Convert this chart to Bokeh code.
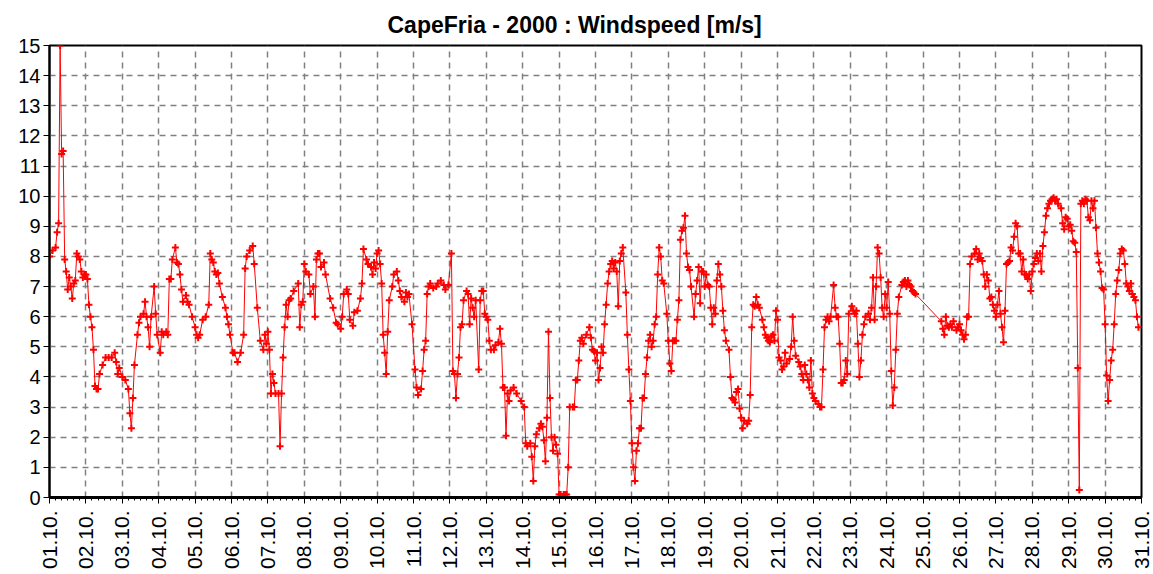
import math
from bokeh.plotting import figure
from bokeh.models import Range1d, FixedTicker, ColumnDataSource
from bokeh.embed import file_html
from bokeh.resources import INLINE

title_text = "CapeFria - 2000 : Windspeed [m/s]"

day_labels = ["01.10.", "02.10.", "03.10.", "04.10.", "05.10.", "06.10.", "07.10.", "08.10.",
              "09.10.", "10.10.", "11.10.", "12.10.", "13.10.", "14.10.", "15.10.", "16.10.",
              "17.10.", "18.10.", "19.10.", "20.10.", "21.10.", "22.10.", "23.10.", "24.10.",
              "25.10.", "26.10.", "27.10.", "28.10.", "29.10.", "30.10.", "31.10."]
y_ticks = [0, 1, 2, 3, 4, 5, 6, 7, 8, 9, 10, 11, 12, 13, 14, 15]

# hours since 01.10. 00:00 and wind speed [m/s]
hours_a = [0, 2, 4, 5, 6, 7, 8, 9, 10, 11, 12, 13, 14, 15, 16, 17, 18, 19, 20, 21, 22, 23, 24, 25, 26, 27,
           28, 29, 30, 31, 32, 33, 35, 37, 39, 41, 43, 44, 45, 46, 48, 50, 52, 53, 54, 55, 56, 58, 59, 60,
           62, 63, 64, 65, 66, 67, 69]
speed_a = [8.0, 8.2, 8.3, 8.8, 9.1, 15.0, 11.4, 11.5, 7.9, 7.5, 6.9, 7.3, 7.0, 6.6, 7.1, 7.2, 8.1, 8.0, 7.9,
           7.5, 7.3, 7.4, 7.4, 7.25, 6.4, 6.0, 5.65, 4.9, 3.7, 3.6, 3.6, 4.1, 4.4, 4.65, 4.65, 4.65, 4.8, 4.5,
           4.1, 4.3, 4.0, 3.9, 3.6, 2.8, 2.3, 3.3, 4.4, 5.4, 5.8, 6.0, 6.1, 6.5, 6.0, 5.65, 5.0, 6.0, 7.0]

hours_b = [70, 71, 73, 74, 75, 77, 78, 79, 80, 81, 83, 84, 85, 86, 87, 88, 90, 91, 92, 94, 96, 97, 98, 99,
           101, 103, 105, 106, 107, 108, 109, 110, 111, 112, 114, 116, 117, 118, 119, 121, 122, 124, 126,
           128, 129, 130, 132, 134, 135, 137, 139, 141]
speed_b = [6.1, 5.4, 4.8, 5.5, 5.4, 5.5, 5.4, 7.25, 7.25, 7.9, 8.3, 7.8, 7.75, 7.4, 6.9, 6.5, 6.7, 6.5, 6.4,
           6.0, 5.65, 5.4, 5.3, 5.4, 5.9, 6.0, 6.4, 8.1, 7.9, 7.8, 7.5, 7.4, 7.45, 7.1, 6.65, 6.3, 6.0, 5.75,
           5.4, 4.8, 4.8, 4.5, 4.8, 5.4, 7.6, 8.0, 8.2, 8.35, 7.75, 6.3, 5.2, 4.9]

hours_c = [142, 143, 144, 145, 146, 147, 148, 149, 151, 152, 153, 154, 155, 156, 157, 158, 159, 161, 164,
           165, 166, 167, 168, 169, 171, 172, 174, 175, 176, 177, 178, 179, 181, 182, 185, 187, 189, 190,
           192, 193, 194, 196, 197, 198, 200, 201, 203, 205, 206, 207, 209, 210, 212, 213, 214]
speed_c = [5.4, 5.1, 5.5, 4.9, 3.45, 4.1, 3.8, 3.45, 3.45, 1.7, 3.45, 4.65, 5.65, 6.4, 6.0, 6.55, 6.6, 6.85,
           7.1, 5.65, 6.4, 6.5, 7.75, 7.5, 7.4, 6.75, 7.0, 6.0, 7.9, 8.1, 8.1, 7.65, 7.8, 7.4, 6.6, 6.3, 5.8,
           5.75, 5.6, 6.0, 6.75, 6.9, 6.75, 5.9, 5.7, 6.15, 6.2, 6.6, 7.1, 8.25, 7.9, 7.75, 7.65, 7.4, 7.8]

hours_d = [215, 216, 217, 218, 219, 220, 221, 222, 223, 224, 226, 227, 229, 230, 231, 232, 234, 235, 236,
           237, 239, 241, 242, 243, 245, 246, 247, 248, 249, 250, 251, 253, 255, 256, 258, 260, 261, 263,
           265, 266, 267, 268, 269, 270, 271, 272, 273, 275, 276, 277, 278, 279, 280, 281, 283, 284, 285]
speed_d = [7.6, 8.1, 8.2, 7.75, 7.1, 5.4, 4.8, 4.1, 5.5, 6.55, 7.0, 7.4, 7.5, 7.2, 6.85, 6.65, 6.5, 6.8,
           6.65, 6.75, 5.75, 4.25, 3.65, 3.4, 3.6, 4.2, 4.9, 5.2, 6.75, 7.0, 7.1, 6.95, 7.0, 7.1, 7.2, 7.05,
           6.9, 7.05, 8.1, 4.2, 4.1, 3.3, 4.1, 4.65, 5.65, 5.75, 6.55, 6.85, 6.75, 5.75, 6.6, 6.3, 6.0, 6.55,
           4.25, 6.55, 6.85]

hours_e = [286, 287, 288, 289, 290, 291, 293, 294, 296, 297, 298, 299, 300, 301, 302, 303, 304, 306, 308,
           311, 313, 314, 315, 317, 318, 319, 320, 321, 323, 324, 325, 326, 327, 328, 329, 330, 331, 332,
           333, 334, 335, 336, 337, 339, 340, 341, 342, 343, 345, 346, 347, 348, 349, 350, 351, 352, 354,
           356, 357, 358]
speed_e = [6.85, 6.1, 6.0, 5.9, 5.2, 4.9, 4.9, 5.05, 5.15, 5.6, 5.1, 3.65, 3.65, 2.05, 3.45, 3.2, 3.55, 3.65,
           3.45, 3.2, 3.0, 1.8, 1.7, 1.8, 1.35, 0.55, 1.7, 2.1, 2.3, 2.45, 2.35, 1.9, 1.2, 2.65, 5.5, 3.3,
           2.0, 1.55, 2.0, 1.75, 1.45, 0.1, 0.1, 0.1, 0.1, 0.1, 1.0, 3.0, 3.0, 3.0, 3.9, 3.9, 4.55, 5.2, 5.3,
           5.1, 5.4, 5.65, 5.3, 4.9]

hours_f = [359, 360, 361, 362, 363, 364, 365, 366, 367, 368, 369, 370, 371, 372, 373, 374, 375, 376, 377,
           378, 380, 381, 382, 383, 384, 385, 386, 387, 388, 389, 390, 391, 392, 393, 394, 395, 396, 397,
           398, 399, 400, 401, 402, 403, 404, 405, 407, 408, 409, 410, 411, 412, 413, 414, 415, 416, 417,
           418, 419, 420, 421, 422, 423, 425, 426]
speed_f = [4.85, 4.55, 4.8, 3.9, 4.3, 5.0, 4.8, 5.75, 6.4, 7.1, 7.5, 7.75, 7.85, 7.6, 7.8, 7.5, 6.35, 7.85,
           8.1, 8.3, 6.8, 5.4, 4.25, 3.2, 1.8, 1.0, 0.55, 1.55, 1.8, 2.3, 2.3, 3.3, 3.3, 4.1, 4.65, 5.2, 5.4,
           5.0, 5.2, 5.75, 6.0, 7.4, 8.3, 8.0, 7.2, 7.1, 6.1, 5.2, 4.45, 4.2, 5.2, 5.2, 5.2, 5.9, 6.55, 8.55,
           8.85, 8.95, 9.35, 8.1, 7.65, 7.55, 7.0, 6.0, 6.75]

hours_g = [427, 428, 429, 430, 431, 432, 433, 434, 435, 436, 437, 438, 439, 440, 441, 442, 443, 444, 445,
           446, 448, 449, 450, 451, 452, 453, 454, 455, 456, 457, 458, 460, 461, 462, 463, 464, 465, 466,
           467, 468, 470, 471, 472, 473, 474, 475, 476, 477, 478, 479, 480, 481, 482, 483, 484, 485, 486,
           488, 489, 490, 491, 492, 494, 495, 496, 497]
speed_g = [7.2, 7.65, 6.45, 7.5, 7.5, 7.0, 7.4, 7.05, 7.0, 6.3, 5.75, 6.3, 6.1, 7.2, 7.75, 7.4, 7.0, 6.2,
           5.55, 5.2, 4.9, 4.0, 3.3, 3.25, 3.15, 3.5, 3.6, 2.95, 2.65, 2.3, 2.55, 2.45, 2.55, 3.4, 5.65, 6.4,
           6.35, 6.65, 6.4, 6.3, 5.9, 5.65, 5.4, 5.3, 5.2, 5.15, 5.35, 5.4, 5.2, 6.2, 5.9, 4.65, 4.55, 4.25,
           4.35, 4.8, 4.45, 4.6, 5.0, 6.0, 5.2, 4.7, 4.5, 4.35, 4.1, 3.9]

hours_h = [498, 499, 500, 501, 502, 503, 504, 505, 507, 508, 509, 510, 511, 512, 513, 514, 515, 517, 518,
           519, 520, 521, 522, 523, 524, 525, 526, 527, 529, 530, 531, 532, 533, 534, 535, 536, 537, 538,
           540, 541, 542, 543, 544, 545, 546, 547, 548, 549, 550, 551, 552, 553, 554, 555, 556, 557, 558,
           559, 560, 562, 563, 564, 565, 566, 567, 568, 569, 570]
speed_h = [4.4, 4.1, 3.9, 3.65, 4.55, 3.45, 3.3, 3.2, 3.1, 3.0, 3.0, 4.25, 5.65, 5.9, 6.0, 5.85, 6.0, 7.05,
           6.3, 6.0, 6.0, 5.1, 3.8, 3.8, 3.9, 4.55, 4.1, 6.1, 6.35, 6.2, 6.1, 6.2, 5.1, 4.0, 4.55, 5.4, 5.75,
           6.0, 6.1, 5.9, 6.3, 7.3, 5.9, 7.0, 8.3, 8.1, 7.3, 6.3, 6.0, 6.75, 6.3, 7.15, 6.1, 4.2, 3.05, 3.65,
           4.9, 6.1, 6.65, 7.05, 7.15, 7.2, 7.0, 7.2, 7.05, 7.0, 6.85, 6.8]

hours_i = [571, 588, 589, 590, 591, 592, 593, 594, 595, 596, 598, 599, 600, 601, 602, 603, 604, 605, 606,
           607, 608, 610, 611, 612, 613, 614, 615, 616, 617, 618, 619, 620, 621, 622, 623, 624, 625, 626,
           627, 628, 629, 630, 631, 632, 633, 634, 635, 636, 637, 638, 639]
speed_i = [6.75, 5.85, 5.6, 5.4, 6.0, 5.7, 5.65, 5.75, 5.65, 5.85, 5.55, 5.65, 5.75, 5.55, 5.4, 5.25, 5.4,
           6.0, 6.0, 7.75, 8.0, 8.1, 8.25, 7.9, 8.1, 7.95, 7.85, 7.4, 7.0, 7.4, 7.2, 6.6, 6.65, 6.4, 6.2, 6.0,
           6.4, 6.85, 6.1, 5.65, 5.15, 6.2, 7.75, 7.8, 7.85, 8.3, 8.2, 8.65, 9.1, 9.0, 8.1]

hours_j = [640, 641, 642, 643, 644, 645, 646, 647, 648, 649, 650, 651, 652, 653, 654, 655, 656, 657, 658,
           659, 660, 661, 662, 663, 664, 665, 667, 668, 669, 670, 671, 672, 673, 674, 675, 676, 677, 678,
           679, 680, 681, 682, 683, 684, 685, 686, 687, 688, 689, 690, 691, 692, 693, 694, 695, 696, 697,
           698, 699, 700, 701, 702, 703, 704, 705, 706, 707, 708, 709, 710, 711, 712, 713, 714, 715, 716,
           717, 718]
speed_j = [8.1, 7.5, 7.9, 7.4, 7.4, 7.25, 7.4, 6.85, 7.5, 7.75, 7.95, 8.1, 7.85, 8.1, 7.5, 8.35, 8.8, 9.35,
           9.6, 9.75, 9.85, 9.9, 9.95, 9.85, 9.9, 9.75, 9.6, 9.1, 8.9, 9.3, 9.25, 9.0, 9.05, 8.85, 8.5, 8.45,
           8.15, 4.3, 0.25, 9.75, 9.85, 9.75, 9.9, 9.85, 9.3, 9.2, 9.85, 9.6, 9.85, 8.95, 8.1, 7.8, 7.5, 6.95,
           6.9, 5.75, 4.05, 3.2, 3.9, 4.55, 4.9, 5.75, 6.75, 7.2, 7.55, 8.1, 8.25, 8.2, 7.75, 7.1, 7.0, 6.85,
           7.1, 6.75, 6.65, 6.55, 6.0, 5.65]

hours = (hours_a + hours_b + hours_c + hours_d + hours_e + hours_f + hours_g + hours_h
         + hours_i + hours_j)
speed = (speed_a + speed_b + speed_c + speed_d + speed_e + speed_f + speed_g + speed_h
         + speed_i + speed_j)

source = ColumnDataSource(data=dict(h=hours, v=speed))

day_hours = [24 * i for i in range(len(day_labels))]
minor_hours = [4 * i for i in range(6 * (len(day_labels) - 1) + 1)]

p = figure(width=1153, height=572, x_range=Range1d(0, 720), y_range=Range1d(0, 15),
           output_backend="svg", toolbar_location=None,
           min_border_left=49, min_border_right=12, min_border_top=45, min_border_bottom=75)

p.title.text = title_text
p.title.align = "left"
p.title.offset = 338
p.title.text_font = "Liberation Sans"
p.title.text_font_size = "23px"
p.title.text_font_style = "bold"
p.title.text_color = "black"
p.title.standoff = 15

p.outline_line_color = "black"
p.outline_line_width = 2
p.background_fill_color = "white"
p.border_fill_color = "white"

p.xaxis.ticker = FixedTicker(ticks=day_hours, minor_ticks=minor_hours)
p.xaxis.major_label_overrides = {h: lab for h, lab in zip(day_hours, day_labels)}
p.xaxis.major_label_orientation = math.pi / 2
p.xaxis.axis_line_width = 3
p.xaxis.axis_line_color = "black"
p.xaxis.major_tick_out = 6
p.xaxis.major_tick_in = 0
p.xaxis.minor_tick_out = 3
p.xaxis.minor_tick_in = 0
p.xaxis.major_label_standoff = 7

p.yaxis.ticker = FixedTicker(ticks=y_ticks)
p.yaxis.axis_line_width = 2
p.yaxis.major_tick_out = 6
p.yaxis.major_tick_in = 0
p.yaxis.minor_tick_line_color = None
p.yaxis.major_label_standoff = 3

for ax in (p.xaxis, p.yaxis):
    ax.major_label_text_font = "Liberation Sans"
    ax.major_label_text_font_size = "20px"
    ax.major_label_text_color = "black"
    ax.major_tick_line_color = "black"
p.xaxis.major_label_text_font_size = "21px"
p.xaxis.minor_tick_line_color = "black"

p.xgrid.ticker = FixedTicker(ticks=day_hours)
p.ygrid.ticker = FixedTicker(ticks=y_ticks)
for g in (p.xgrid, p.ygrid):
    g.grid_line_color = "#808080"
    g.grid_line_dash = "6 5"
    g.grid_line_width = 1.5

p.line("h", "v", source=source, line_color="#ff0000", line_width=1)
p.scatter("h", "v", source=source, marker="cross", size=7, line_color="#ff0000", line_width=2)

open("out.html", "w").write(file_html(p, INLINE))
